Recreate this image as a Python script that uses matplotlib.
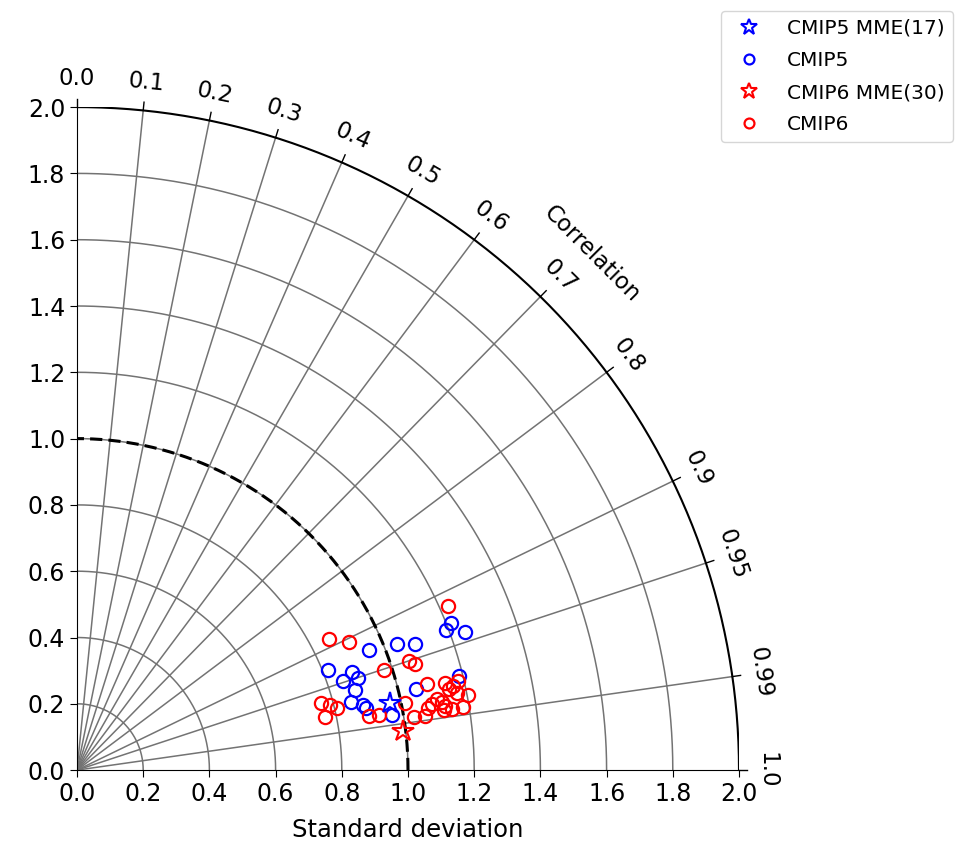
import numpy as np
import matplotlib
import matplotlib.pyplot as plt
matplotlib.use('agg')

# standard deviation (normalised) and correlation of each model
cmip5_std = [0.817, 0.955, 0.882, 0.894, 0.848, 0.874, 0.854, 0.887, 0.965,
             1.040, 1.089, 1.054, 1.188, 1.214, 1.193, 1.244, 0.894]
cmip5_corr = [0.929, 0.925, 0.942, 0.951, 0.949, 0.961, 0.971, 0.975, 0.985,
              0.931, 0.937, 0.973, 0.971, 0.931, 0.935, 0.942, 0.978]
cmip5_mme = (0.967, 0.978)

cmip6_std = [1.225, 0.859, 0.909, 0.976, 1.057, 1.070, 1.088, 0.764, 0.789, 0.807,
             0.766, 0.896, 0.927, 1.012, 1.029, 1.063, 1.143, 1.149, 1.170, 1.203,
             1.108, 1.121, 1.129, 1.091, 1.077, 1.183, 1.147, 1.122, 1.181, 1.163]
cmip6_corr = [0.915, 0.887, 0.905, 0.951, 0.950, 0.954, 0.971, 0.964, 0.969, 0.973,
              0.978, 0.983, 0.984, 0.980, 0.988, 0.988, 0.973, 0.977, 0.980, 0.982,
              0.981, 0.983, 0.985, 0.983, 0.985, 0.987, 0.987, 0.987, 0.974, 0.976]
cmip6_mme = (0.993, 0.993)

corr_ticks = [0.0, 0.1, 0.2, 0.3, 0.4, 0.5, 0.6, 0.7, 0.8, 0.9, 0.95, 0.99, 1.0]
std_arcs = [0.2, 0.4, 0.6, 0.8, 1.0, 1.2, 1.4, 1.6, 1.8]
std_max = 2.0


def to_xy(std, corr):
    std = np.asarray(std)
    theta = np.arccos(np.asarray(corr))
    return std * np.cos(theta), std * np.sin(theta)


fig = plt.figure(figsize=(9.65, 8.5), dpi=100)
ax = fig.add_axes([0.0798, 0.094, 0.686, 0.780])

t = np.linspace(0, np.pi / 2, 300)
for r in std_arcs:
    ax.plot(r * np.cos(t), r * np.sin(t), color='0.45', lw=1.1, zorder=1)
ax.plot(std_max * np.cos(t), std_max * np.sin(t), color='k', lw=1.5, zorder=2)
ax.plot(np.cos(t), np.sin(t), color='k', lw=2.2, ls=(0, (4, 2)), zorder=3)

for c in corr_ticks:
    th = np.arccos(c)
    if 0 < c < 1:
        ax.plot([0, std_max * np.cos(th)], [0, std_max * np.sin(th)], color='0.45', lw=1.1, zorder=1)
    ax.plot([std_max * np.cos(th), 2.025 * np.cos(th)], [std_max * np.sin(th), 2.025 * np.sin(th)],
            color='k', lw=1, clip_on=False)
    ax.text(2.085 * np.cos(th), 2.085 * np.sin(th), str(c), rotation=np.degrees(th) - 90,
            ha='center', va='center', fontsize=16.5, rotation_mode='anchor')

ax.text(2.2 * np.cos(np.pi / 4), 2.2 * np.sin(np.pi / 4), 'Correlation', rotation=-45,
        ha='center', va='center', fontsize=16.5, rotation_mode='anchor')

x5, y5 = to_xy(cmip5_std, cmip5_corr)
x6, y6 = to_xy(cmip6_std, cmip6_corr)
mx5, my5 = to_xy(cmip5_mme[0], cmip5_mme[1])
mx6, my6 = to_xy(cmip6_mme[0], cmip6_mme[1])

ax.plot(mx5, my5, '*', ms=16, mfc='none', mec='b', mew=1.5, ls='none', label='CMIP5 MME(17)', zorder=5)
ax.plot(x5, y5, 'o', ms=9.5, mfc='none', mec='b', mew=1.6, ls='none', label='CMIP5', zorder=4)
ax.plot(mx6, my6, '*', ms=16, mfc='none', mec='r', mew=1.5, ls='none', label='CMIP6 MME(30)', zorder=5)
ax.plot(x6, y6, 'o', ms=9.5, mfc='none', mec='r', mew=1.6, ls='none', label='CMIP6', zorder=4)

ax.set_xlim(0, std_max)
ax.set_ylim(0, std_max)
ticks = np.arange(0, 2.01, 0.2)
ax.set_xticks(ticks)
ax.set_yticks(ticks)
ax.set_xticklabels([f'{v:.1f}' for v in ticks])
ax.set_yticklabels([f'{v:.1f}' for v in ticks])
ax.tick_params(labelsize=17, length=5)
ax.spines['top'].set_visible(False)
ax.spines['right'].set_visible(False)
ax.set_xlabel('Standard deviation', fontsize=17.5, labelpad=9)

fig.legend(loc='upper right', bbox_to_anchor=(0.998, 0.999), fontsize=14.5, markerscale=0.75,
           handletextpad=0.9, labelspacing=0.65)

plt.savefig('out.png', dpi=100)
plt.close()
